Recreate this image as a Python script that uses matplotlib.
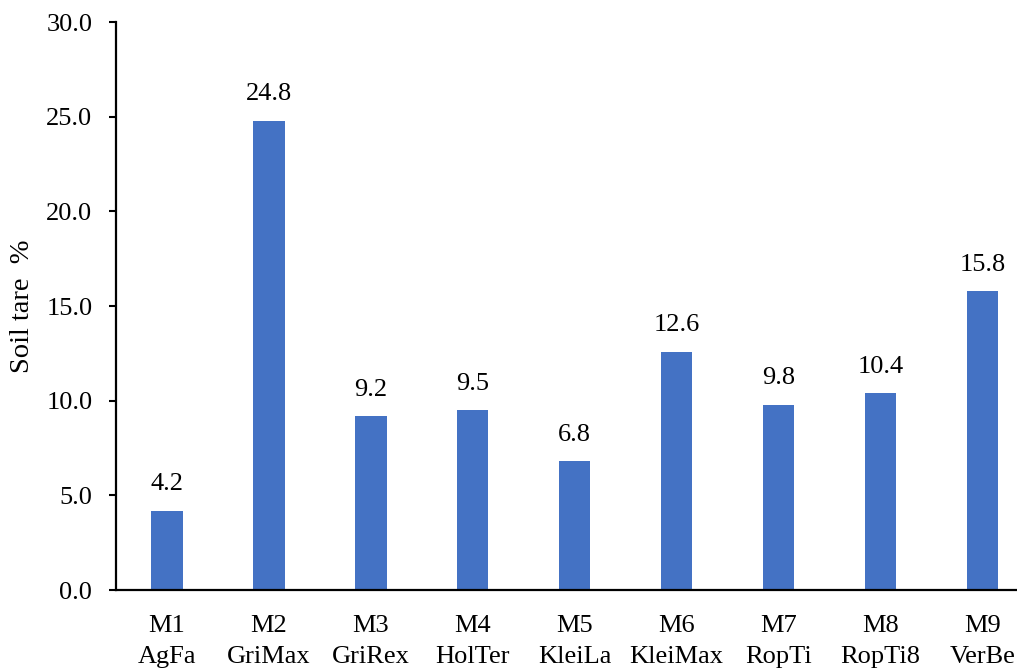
import matplotlib.pyplot as plt

# soil tare per machine
machines = ["M1", "M2", "M3", "M4", "M5", "M6", "M7", "M8", "M9"]
names = ["AgFa", "GriMax", "GriRex", "HolTer", "KleiLa", "KleiMax", "RopTi", "RopTi8", "VerBe"]
soil_tare = [4.2, 24.8, 9.2, 9.5, 6.8, 12.6, 9.8, 10.4, 15.8]

plt.rcParams['font.family'] = ['Liberation Serif', 'DejaVu Serif']

fig = plt.figure(figsize=(10.17, 6.72), dpi=100)
ax = fig.add_axes([0.114, 0.122, 0.886, 0.845])

pos = list(range(len(machines)))
bars = ax.bar(pos, soil_tare, width=0.31, color="#4472C4")

for x, v in zip(pos, soil_tare):
    ax.annotate(f"{v:.1f}", (x, v), xytext=(0, 11), textcoords="offset points",
                ha="center", va="bottom", fontsize=19)

ax.set_ylim(0, 30)
ax.set_xlim(-0.5, 8.34)
ax.set_yticks([0, 5, 10, 15, 20, 25, 30])
ax.set_yticklabels([f"{t:.1f}" for t in [0, 5, 10, 15, 20, 25, 30]], fontsize=19)
ax.set_xticks(pos)
ax.set_xticklabels([f"{m}\n{n}" for m, n in zip(machines, names)], fontsize=19, linespacing=1.55)
ax.tick_params(axis="x", length=0, pad=18)
ax.tick_params(axis="y", length=5, width=1.5, pad=12)
ax.set_ylabel("Soil tare  %", fontsize=20.5, labelpad=8)

for s in ["top", "right"]:
    ax.spines[s].set_visible(False)
for s in ["left", "bottom"]:
    ax.spines[s].set_linewidth(1.6)

fig.savefig("out.png", dpi=100)
